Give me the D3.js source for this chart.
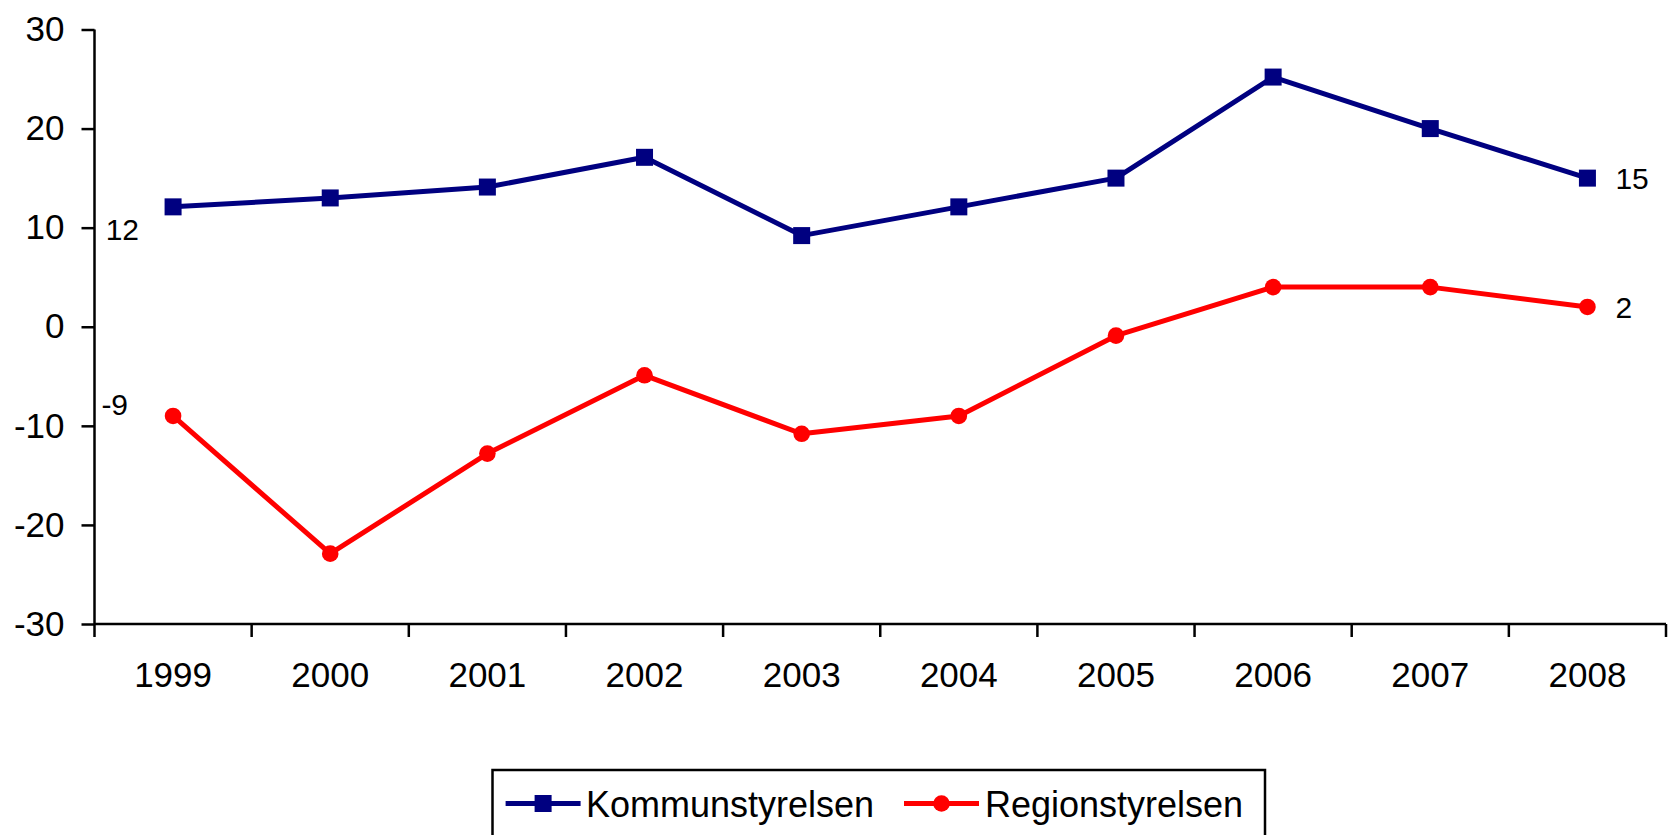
<!DOCTYPE html>
<html>
<head>
<meta charset="utf-8">
<script src="https://cdn.jsdelivr.net/npm/d3@7"></script>
<style>
  body { margin: 0; background: #fff; }
  svg { display: block; font-family: "Liberation Sans", Arial, sans-serif; }
</style>
</head>
<body>
<div id="chart"></div>
<script>
const years = ["1999", "2000", "2001", "2002", "2003", "2004", "2005", "2006", "2007", "2008"];
const kommunstyrelsen = [12.1, 13, 14.1, 17.1, 9.2, 12.1, 15, 25.2, 20, 15];
const regionstyrelsen = [-9, -22.9, -12.8, -4.9, -10.8, -9, -0.9, 4, 4, 2];
const yTicks = [-30, -20, -10, 0, 10, 20, 30];

const width = 1668, height = 835;

const svg = d3.select("#chart")
  .append("svg")
  .attr("width", width)
  .attr("height", height);

const x = d3.scaleBand().domain(years).range([94.5, 1666]).paddingInner(0).paddingOuter(0);
const y = d3.scaleLinear().domain([-30, 30]).range([624, 29.5]);

// y axis (plain hyphen for negatives, like the original)
const yAxis = svg.append("g")
  .attr("transform", "translate(94.5,0)")
  .call(d3.axisLeft(y).tickValues(yTicks).tickFormat(d => String(d)).tickSize(13).tickPadding(17));
yAxis.selectAll("text").style("font-size", "35px").attr("fill", "#000");
yAxis.selectAll("line, path").attr("stroke", "#000").attr("stroke-width", 2.5);
yAxis.select(".domain").attr("d", `M0,${y(30)}V${y(-30)}`);

// x axis: labels centred in bands, ticks on band edges
const xAxis = svg.append("g")
  .attr("transform", `translate(0,${y(-30)})`)
  .call(d3.axisBottom(x).tickSize(0).tickPadding(38));
xAxis.selectAll("text").style("font-size", "35px").attr("fill", "#000");
xAxis.select(".domain").attr("stroke", "#000").attr("stroke-width", 2.5)
  .attr("d", `M${x.range()[0]},0H${x.range()[1]}`);
xAxis.selectAll(".edge")
  .data(years.map(d => x(d)).concat([x.range()[1]]))
  .join("line")
  .attr("class", "edge")
  .attr("x1", d => d).attr("x2", d => d)
  .attr("y1", 0).attr("y2", 13)
  .attr("stroke", "#000").attr("stroke-width", 2.5);

const cx = d => x(d) + x.bandwidth() / 2;

const series = [
  { name: "Kommunstyrelsen", values: kommunstyrelsen, color: "#000080", marker: "square",
    first: { dx: -34, dy: 33 } },
  { name: "Regionstyrelsen", values: regionstyrelsen, color: "#ff0000", marker: "circle",
    first: { dx: -45, dy: -1 } }
];

const line = d3.line()
  .x(d => cx(d.year))
  .y(d => y(d.value));

function drawMarker(g, s, px, py) {
  if (s.marker === "square") {
    g.append("rect")
      .attr("x", px - 8.5).attr("y", py - 8.5)
      .attr("width", 17).attr("height", 17)
      .attr("fill", s.color);
  } else {
    g.append("circle")
      .attr("cx", px).attr("cy", py).attr("r", 8.3)
      .attr("fill", s.color);
  }
}

series.forEach(s => {
  const pts = years.map((yr, i) => ({ year: yr, value: s.values[i] }));
  const g = svg.append("g");
  g.append("path")
    .datum(pts)
    .attr("fill", "none")
    .attr("stroke", s.color)
    .attr("stroke-width", 5)
    .attr("stroke-linejoin", "round")
    .attr("d", line);
  pts.forEach(p => drawMarker(g, s, cx(p.year), y(p.value)));

  // labels on first and last point
  const f = pts[0], l = pts[pts.length - 1];
  g.append("text")
    .attr("x", cx(f.year) + s.first.dx)
    .attr("y", y(f.value) + s.first.dy)
    .attr("text-anchor", "end")
    .style("font-size", "30px")
    .text(Math.round(f.value));
  g.append("text")
    .attr("x", cx(l.year) + 28)
    .attr("y", y(l.value) + 11)
    .style("font-size", "30px")
    .text(Math.round(l.value));
});

// legend
const legend = svg.append("g");
legend.append("rect")
  .attr("x", 492.5).attr("y", 770)
  .attr("width", 772.5).attr("height", 80)
  .attr("fill", "none").attr("stroke", "#000").attr("stroke-width", 2.5);

const legendItems = [
  { s: series[0], x0: 505.6, tx: 586 },
  { s: series[1], x0: 904, tx: 985 }
];
legendItems.forEach(it => {
  const ly = 803.5;
  legend.append("line")
    .attr("x1", it.x0).attr("x2", it.x0 + 75)
    .attr("y1", ly).attr("y2", ly)
    .attr("stroke", it.s.color).attr("stroke-width", 5);
  drawMarker(legend, it.s, it.x0 + 37.5, ly);
  legend.append("text")
    .attr("x", it.tx).attr("y", ly + 13)
    .style("font-size", "36px")
    .text(it.s.name);
});
</script>
</body>
</html>
